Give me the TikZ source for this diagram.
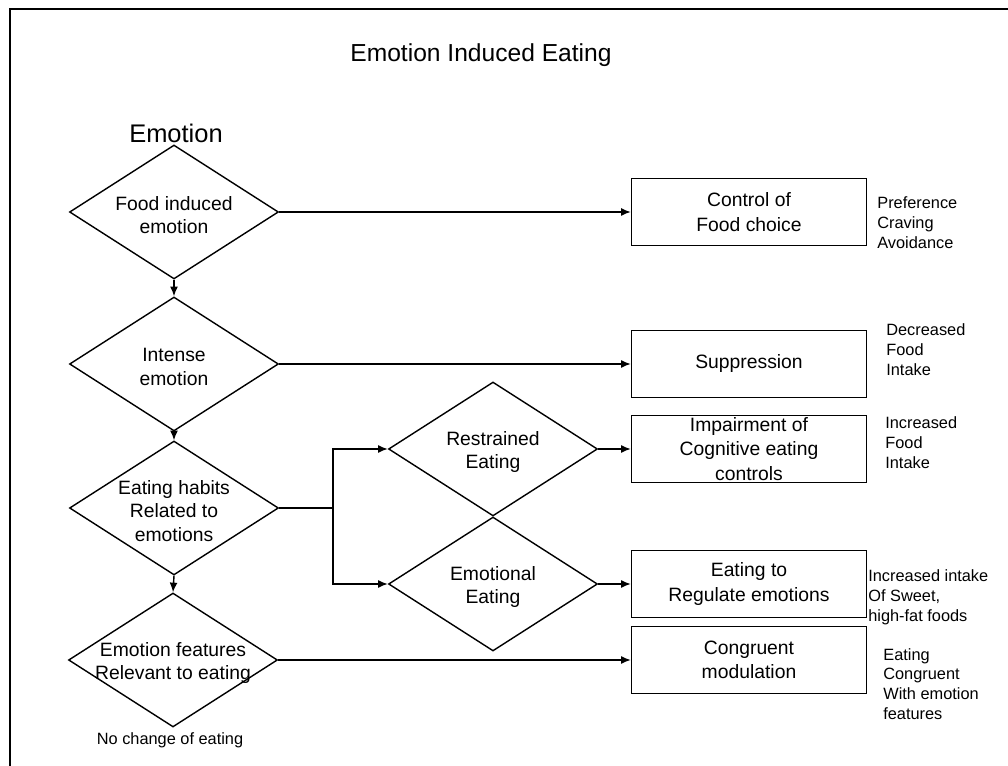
\documentclass[tikz,border=0pt]{standalone}
\usepackage{fontspec}
\setmainfont{Liberation Sans}
\usetikzlibrary{shapes.geometric,arrows.meta}

\begin{document}
\begin{tikzpicture}
[x=0.02cm, y=-0.02cm]
\tikzset{
	decision/.style = {diamond, draw, line width=0.8pt, aspect=1.56, minimum width=4.18cm, minimum height=2.68cm, inner sep=0pt},
	outcome/.style = {rectangle, draw, line width=0.8pt, minimum width=4.7cm, minimum height=1.34cm, inner sep=0pt, align=center, font=\fontsize{11}{13.8}\selectfont},
	effect/.style = {anchor=west, inner sep=0pt, align=left, font=\fontsize{9.3}{11.3}\selectfont},
	flow/.style = {line width=0.8pt, -{Latex[length=5.5pt,width=4.5pt]}},
	every label/.style = {align=center, yshift=-0.06cm, font=\fontsize{11}{13.5}\selectfont}
}
\useasboundingbox (0,0) rectangle (1008,766);
\draw [line width=1.1pt] (10,766) -- (10,9) -- (1008,9);

\node (title) at (481,55) [font=\fontsize{14}{17}\selectfont] {Emotion Induced Eating};
\node (emotion) at (176,133) [font=\fontsize{14.5}{17}\selectfont] {Emotion};

\node (d1) [decision, label={center:{Food induced\\emotion}}] at (174,212) {};
\node (d2) [decision, label={center:{Intense\\emotion}}] at (174,364) {};
\node (d3) [decision, label={center:{Eating habits\\Related to\\emotions}}] at (174,508) {};
\node (d4) [decision, label={center:{Emotion features\\Relevant to eating}}] at (173,660) {};
\node (nochange) at (170,740) [font=\fontsize{9.3}{11.3}\selectfont] {No change of eating};

\node (e1) [decision, label={center:{Restrained\\Eating}}] at (493,449) {};
\node (e2) [decision, label={center:{Emotional\\Eating}}] at (493,584) {};

\node (b1) [outcome] at (749,212) {Control of\\Food choice};
\node (b2) [outcome] at (749,364) {Suppression};
\node (b3) [outcome] at (749,449) {Impairment of\\Cognitive eating\\controls};
\node (b4) [outcome] at (749,584) {Eating to\\Regulate emotions};
\node (b5) [outcome] at (749,660) {Congruent\\modulation};

\node (s1) [effect] at (877,223) {Preference\\Craving\\Avoidance};
\node (s2) [effect] at (886,350) {Decreased\\Food\\Intake};
\node (s3) [effect] at (885,443) {Increased\\Food\\Intake};
\node (s4) [effect] at (868,597) {Increased intake\\Of Sweet,\\high-fat foods};
\node (s5) [effect] at (883,684) {Eating\\Congruent\\With emotion\\features};

\coordinate (split) at (333,508);

\draw [flow] (d1.south) -- (d2.north);
\draw [flow] (d2.south) -- (d3.north);
\draw [flow] (d3.south) -- (d4.north);
\draw [flow] (d1.east) -- (b1.west);
\draw [flow] (d2.east) -- (b2.west);
\draw [flow] (d4.east) -- (b5.west);
\draw [line width=0.8pt] (d3.east) -- (split);
\draw [flow] (split) |- (e1.west);
\draw [flow] (split) |- (e2.west);
\draw [flow] (e1.east) -- (b3.west);
\draw [flow] (e2.east) -- (b4.west);
\end{tikzpicture}
\end{document}
